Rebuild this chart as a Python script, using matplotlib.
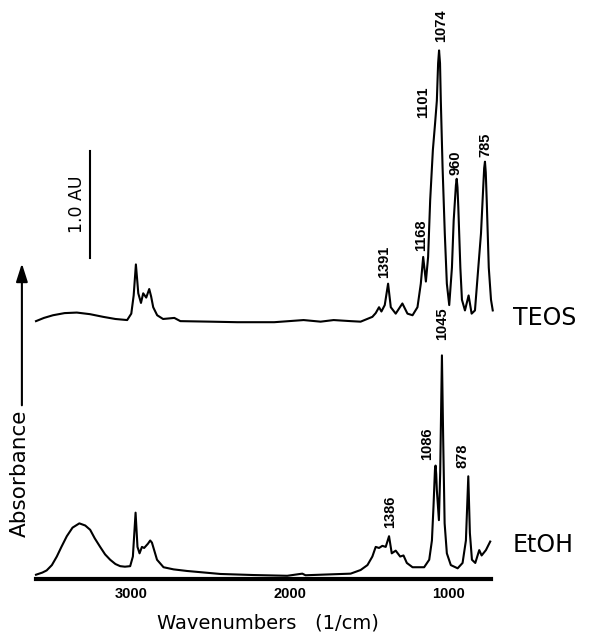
#!/usr/bin/env python3
"""IR absorbance spectra of TEOS and EtOH, stacked with a 1.0 AU scale bar."""

import matplotlib
matplotlib.use("Agg")
import matplotlib.pyplot as plt
from matplotlib.font_manager import FontProperties

# TEOS trace (wavenumber in 1/cm, absorbance above its own baseline in AU)
teos_wn = [3600, 3550, 3493, 3420, 3343, 3260, 3177, 3100, 3026, 3000, 2985, 2971,
           2962, 2956, 2939, 2925, 2906, 2887, 2875, 2862, 2837, 2800, 2729, 2691,
           2500, 2332, 2100, 1915, 1808, 1726, 1619, 1556, 1482,
           1461, 1440, 1425, 1404, 1383, 1366, 1335, 1293, 1261, 1229, 1198, 1177,
           1162, 1145, 1131, 1118, 1101, 1087, 1076, 1068, 1062, 1056, 1051, 1040,
           1026, 1013, 998, 981, 970, 956, 951, 946, 941, 928, 918, 899, 876, 857,
           836, 815, 798, 784, 778, 773, 768, 762, 749, 735, 724]
teos_abs = [0.01, 0.04, 0.065, 0.085, 0.09, 0.075, 0.05, 0.03, 0.02, 0.08, 0.25, 0.54,
            0.38, 0.27, 0.18, 0.27, 0.23, 0.31, 0.24, 0.14, 0.065, 0.03, 0.04, 0.01,
            0.005, 0.0, 0.0, 0.02, 0.005, 0.02, 0.01, 0.005, 0.05,
            0.085, 0.14, 0.10, 0.16, 0.36, 0.14, 0.08, 0.175, 0.08, 0.065, 0.14, 0.36,
            0.61, 0.38, 0.61, 1.14, 1.61, 1.86, 2.07, 2.42, 2.54, 2.42, 2.07, 1.45,
            0.83, 0.36, 0.16, 0.51, 0.95, 1.28, 1.34, 1.26, 1.08, 0.51, 0.21, 0.11,
            0.25, 0.08, 0.11, 0.51, 0.83, 1.26, 1.44, 1.50, 1.40, 1.14, 0.51, 0.21, 0.11]
teos_offset = 2.40

# EtOH trace
etoh_wn = [3600, 3560, 3533, 3500, 3469, 3440, 3406, 3370, 3327, 3290, 3259, 3230,
           3196, 3165, 3133, 3100, 3070, 3040, 3007, 2990, 2973,
           2961, 2948, 2933, 2919, 2895, 2881, 2870, 2860, 2838, 2797, 2734, 2649,
           2439, 2229, 2018, 1923, 1903, 1619, 1556, 1513, 1482, 1461, 1440, 1419,
           1398, 1377, 1360, 1335, 1307, 1286, 1265, 1229, 1156, 1124, 1107, 1097,
           1088, 1084, 1080, 1076, 1063, 1055, 1044, 1036, 1027, 1013, 988, 945,
           914, 893, 878, 868, 855, 834, 809, 794, 767, 740]
etoh_abs = [0.04, 0.06, 0.08, 0.13, 0.21, 0.30, 0.40, 0.48, 0.52, 0.50, 0.46, 0.38,
            0.30, 0.23, 0.18, 0.14, 0.12, 0.115, 0.12, 0.21, 0.62,
            0.30, 0.24, 0.30, 0.29, 0.33, 0.36, 0.34, 0.29, 0.18, 0.11, 0.09, 0.075,
            0.047, 0.037, 0.03, 0.05, 0.035, 0.05, 0.084, 0.13, 0.21, 0.30, 0.29, 0.31,
            0.30, 0.40, 0.24, 0.265, 0.21, 0.22, 0.15, 0.11, 0.11, 0.18, 0.36, 0.68,
            1.02, 1.06, 0.98, 0.83, 0.55, 0.99, 2.09, 1.30, 0.52, 0.24, 0.13, 0.10,
            0.15, 0.36, 0.96, 0.43, 0.18, 0.15, 0.27, 0.22, 0.27, 0.35]

# peak annotations: (text, wavenumber of label, bottom of label in AU)
teos_labels = [("1074", 1051, 5.02), ("1101", 1164, 4.31), ("960", 956, 3.78),
               ("785", 773, 3.94), ("1168", 1177, 3.07), ("1391", 1410, 2.81)]
etoh_labels = [("1045", 1044, 2.23), ("1086", 1139, 1.11), ("878", 914, 1.04),
               ("1386", 1373, 0.48)]

xticks = [3000, 2000, 1000]

ink = "black"
num_font = dict(family="Liberation Sans", fontweight="bold", fontsize=10.5)

fig = plt.figure(figsize=(5.89, 6.35), dpi=100)
ax = fig.add_axes([36 / 589, 1 - 579 / 635, 455 / 589, 579 / 635])

ax.plot(teos_wn, [v + teos_offset for v in teos_abs], color=ink, lw=1.5,
        clip_on=False, solid_joinstyle="round")
ax.plot(etoh_wn, etoh_abs, color=ink, lw=1.5, clip_on=False,
        solid_joinstyle="round")

ax.set_xlim(3600, 735)
ax.set_ylim(0, 579 / 107)

# 1.0 AU scale bar
ax.plot([3259, 3259], [3.0, 4.0], color=ink, lw=1.5, clip_on=False)
ax.text(3341, 3.5, "1.0 AU", rotation=90, ha="center", va="center",
        fontsize=12.5, color=ink)

for text, wn, y in teos_labels + etoh_labels:
    ax.text(wn, y, text, rotation=90, ha="center", va="bottom", color=ink,
            clip_on=False, **num_font)

ax.text(596, teos_offset + 0.04, "TEOS", ha="left", va="center", fontsize=17,
        color=ink, clip_on=False)
ax.text(596, 0.32, "EtOH", ha="left", va="center", fontsize=17, color=ink,
        clip_on=False)

ax.spines[["top", "right", "left"]].set_visible(False)
ax.spines["bottom"].set_linewidth(3)
ax.spines["bottom"].set_color(ink)
ax.set_yticks([])
ax.set_xticks(xticks, [str(t) for t in xticks])
for lab in ax.get_xticklabels():
    lab.set_fontproperties(FontProperties(family="Liberation Sans",
                                          weight="bold", size=10.5))
ax.tick_params(axis="x", length=0, pad=6, colors=ink)

fig.text(268 / 589, 1 - 623 / 635, "Wavenumbers   (1/cm)", ha="center",
         va="center", fontsize=14, color=ink)

# y-axis label with arrow
ax.text(-0.035, 0.183, "Absorbance", rotation=90, ha="center", va="center",
        fontsize=15.5, color=ink, transform=ax.transAxes)
ax.annotate("", xy=(-0.031, 0.545), xytext=(-0.031, 0.300),
            xycoords="axes fraction", textcoords="axes fraction",
            arrowprops=dict(arrowstyle="-|>,head_width=0.35,head_length=1.1",
                            color=ink, lw=1.5, shrinkA=0, shrinkB=0))

fig.savefig("out.png", dpi=100, facecolor="white")
plt.close(fig)
